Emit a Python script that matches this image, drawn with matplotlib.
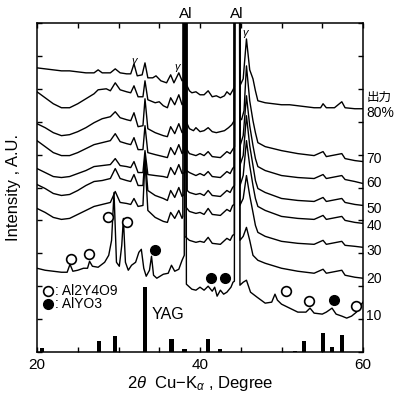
import numpy as np
import matplotlib
matplotlib.use("Agg")
import matplotlib.pyplot as plt
import matplotlib.transforms as mtrans

plt.rcParams['font.family'] = ['Liberation Sans', 'Noto Sans CJK JP', 'DejaVu Sans']
plt.rcParams['mathtext.fontset'] = 'custom'
plt.rcParams['mathtext.rm'] = 'Liberation Sans'
plt.rcParams['mathtext.it'] = 'Liberation Sans:italic'

# ---- XRD patterns (2theta [deg], intensity [A.U.])
c80 = [(20,285),(21,284),(22,283),(23,282),(24,282),(25,281),(26,280),(27,280),(27.5,283),(28,280),(29,280),
       (29.6,284),(30.2,280),(31,279),(31.5,279),(31.9,289),(32.3,277),(32.9,278),(33.25,290),(33.6,275),(34.2,275),
       (34.6,277),(35.2,272),(35.9,270),(36.4,278),(36.8,270),(37.4,280),(37.8,272),(38.09,274),(38.18,900),(38.26,900),
       (38.35,268),(38.7,262),(39,260),(39.5,261),(40,258),(40.5,258),(41,262),(41.5,256),(42,257),(42.5,255),(43,257),
       (43.3,261),(43.7,258),(44.05,263),(44.22,266),(44.3,900),(44.82,900),(44.9,267),(45.3,274),(45.7,314),(46.1,283),
       (46.5,274),(46.8,262),(47.1,252),(48,250),(49,249),(50,248),(51,248),(52,247),(53,246),(54,245),(54.8,245),
       (55.1,249),(55.5,245),(56.5,245),(57.4,251),(57.8,245),(59,244),(60,244)]
c70 = [(20,261),(21,255),(22,249),(23,245),(24,245),(25,249),(26,254),(27,259),(27.5,263),(28.5,264),(29,262),
       (29.6,270),(30.2,263),(31,261),(31.5,260),(31.9,267),(32.4,256),(33.0,256),(33.25,272),(33.6,253),(34.5,250),
       (35.0,251),(35.5,247),(36.0,245),(36.4,255),(36.9,248),(37.4,258),(37.8,248),(37.99,250),(38.08,900),(38.16,900),
       (38.25,232),(38.7,224),(39.2,222),(39.5,225),(40,221),(40.5,222),(41,225),(41.5,221),(42,220),(42.5,221),(43,222),
       (43.5,225),(43.9,228),(44.19,232),(44.27,900),(44.79,900),(44.87,235),(45.1,233),(45.4,242),(45.7,287),(46.1,252),
       (46.5,232),(46.8,220),(47.1,210),(48,206),(49,204),(50,202),(52,199),(54,197),(55.1,201),(55.5,196),(57.4,199),
       (57.8,194),(59,192),(60,191)]
c60 = [(20,229),(21,225),(22,220),(23,217),(24,218),(25,221),(26,225),(27,230),(28,234),(29,236),(29.6,241),(30.2,235),
       (31,233),(31.5,232),(31.9,240),(32.4,226),(33.0,227),(33.25,254),(33.6,224),(34.5,220),(35.5,217),(36.0,216),
       (36.4,226),(36.9,219),(37.4,229),(37.8,220),(38.14,222),(38.23,900),(38.31,900),(38.4,203),(38.7,199),(39.5,197),
       (40,199),(40.5,197),(41,201),(41.5,196),(42.5,195),(43.3,201),(43.7,199),(44.0,203),(44.24,206),(44.32,900),
       (44.84,900),(44.92,207),(45.3,217),(45.7,257),(46.1,227),(46.5,207),(46.8,194),(47.1,186),(48,182),(50,177),
       (52,175),(54,174),(55.1,178),(55.5,174),(57.4,177),(57.8,173),(59,171),(60,169)]
c50 = [(20,212),(21,206),(22,200),(23,197),(24,197),(25,200),(26,204),(27,208),(28,210),(29,212),(29.6,219),(30.2,211),
       (31,209),(31.5,208),(31.9,215),(32.4,203),(33.0,203),(33.25,227),(33.6,200),(34.5,198),(35.5,196),(36.0,195),
       (36.4,205),(36.9,198),(37.4,208),(37.8,199),(37.94,200),(38.03,900),(38.11,900),(38.2,183),(38.7,180),(39.5,177),
       (40,179),(40.5,177),(41,181),(41.5,176),(42.5,175),(43.3,181),(43.7,179),(44.0,184),(44.2,186),(44.28,900),
       (44.8,900),(44.88,187),(45.3,197),(45.7,237),(46.1,207),(46.5,187),(46.8,172),(47.1,164),(48,160),(50,154),
       (52,152),(54,151),(55.1,155),(55.5,151),(57.4,154),(57.8,150),(59,148),(60,147)]
c40 = [(20,184),(21,180),(22,176),(23,175),(24,176),(25,179),(26,182),(27,186),(28,187),(29,188),(29.6,194),(30.2,187),
       (31,186),(31.5,185),(31.9,191),(32.4,180),(33.0,180),(33.25,202),(33.6,178),(34.5,177),(35.5,176),(36.0,175),
       (36.4,185),(36.9,178),(37.4,188),(37.8,179),(38.17,180),(38.26,900),(38.34,900),(38.43,162),(38.7,160),(39.5,158),
       (40,159),(40.5,157),(41,162),(41.5,157),(42.5,156),(43.3,162),(43.7,160),(44.0,165),(44.23,167),(44.31,900),
       (44.83,900),(44.91,167),(45.3,177),(45.7,212),(46.1,187),(46.5,167),(46.8,154),(47.1,146),(48,142),(50,136),
       (52,134),(54,133),(55.1,137),(55.5,133),(57.4,136),(57.8,132),(59,130),(60,129)]
c30 = [(20,168),(21,164),(22,159),(23,157),(24,158),(25,162),(26,167),(27,171),(28,172),(29,174),(29.6,184),(30.2,174),
       (31,172),(31.5,171),(31.9,178),(32.4,167),(33.0,167),(33.25,197),(33.6,162),(34.5,157),(35.5,154),(36.0,152),
       (36.4,162),(36.9,155),(37.4,165),(37.8,156),(38.04,158),(38.13,900),(38.21,900),(38.3,145),(38.7,141),(39.5,139),
       (40,140),(40.5,138),(41,144),(41.5,138),(42.5,137),(43.3,143),(43.7,141),(44.0,147),(44.21,148),(44.29,900),
       (44.81,900),(44.89,147),(45.3,154),(45.7,177),(46.1,157),(46.5,140),(46.8,127),(47.1,120),(48,116),(50,111),
       (52,109),(54,108),(55.1,112),(55.5,108),(57.4,111),(57.8,107),(59,106),(60,105)]
c20 = [(20,144),(21,140),(22,135),(23,133),(24,134),(25,138),(26,142),(27,146),(28,148),(29,150),(29.6,161),(30.2,150),
       (31,149),(31.5,148),(31.9,154),(32.4,146),(33.0,147),(33.25,192),(33.6,142),(34.5,135),(35.5,131),(36.0,130),
       (36.4,140),(36.9,134),(37.4,142),(37.8,134),(37.89,136),(37.98,900),(38.06,900),(38.15,116),(38.7,112),(39.5,110),
       (40,111),(40.5,110),(41,115),(41.5,109),(42.5,108),(43.3,114),(43.7,112),(44.0,117),(44.22,118),(44.3,900),
       (44.82,900),(44.9,112),(45.3,116),(45.7,125),(46.1,112),(46.5,97),(47.1,92),(48,89),(50,84),(52,81),(54,79),
       (55.1,83),(55.5,79),(57.4,82),(57.8,77),(59,75),(60,74)]
c10 = [(20,84),(21,82),(22,81),(23,80),(23.7,80),(24.05,88),(24.4,81),(25,82),(25.7,84),(26.2,84),(26.45,91),(26.8,86),
       (27.5,85),(28.3,90),(28.8,97),(29.15,112),(29.45,160),(29.75,90),(30.1,86),(30.4,107),(30.6,134),(30.85,90),
       (31.2,82),(31.6,87),(32.1,90),(32.5,100),(32.8,103),(33.1,84),(33.4,76),(33.8,82),(34.05,96),(34.3,77),(34.7,74),
       (35.5,78),(36.1,79),(36.5,87),(36.9,81),(37.4,83),(37.8,92),(38.07,97),(38.16,900),(38.24,900),(38.33,68),(39,63),
       (39.5,62),(40,65),(40.5,62),(41,66),(41.5,61),(41.8,65),(42.1,56),(42.5,62),(42.9,58),(43.3,60),(43.8,65),
       (44.05,70),(44.22,71),(44.3,900),(44.82,900),(44.9,67),(45.3,70),(45.7,72),(46.2,60),(47,55),(48,49),(48.8,50),
       (49.2,58),(49.5,52),(50,48),(51,44),(52,40),(53,40),(53.5,44),(54,39),(55,38),(55.5,40),(56.2,44),(56.7,38),
       (57.4,36),(58,34),(58.6,36),(59.2,40),(59.6,46),(60,50)]
curves = [c80, c70, c60, c50, c40, c30, c20, c10]

# right-hand labels (power) and their height
power_lab = ["80%", "70", "60", "50", "40", "30", "20", "10"]
power_y   = [240, 194, 170, 143, 126, 101, 73, 36]

# YAG reference pattern
yag_pos = [20.65, 27.6, 29.6, 33.25, 36.5, 38.1, 41.0, 42.5, 51.7, 52.8, 55.1, 56.2, 57.4]
yag_int = [4, 11, 16, 65, 13, 3, 13, 3, 1, 11, 19, 5, 17]

# phase markers
a2y_x = [24.13, 26.4, 28.7, 31.0, 50.6, 53.4, 59.2]      # Al2Y4O9
a2y_y = [93, 98, 135, 130, 61, 51, 46]
ayo_x = [34.5, 41.35, 43.07, 56.4]                      # AlYO3
ayo_y = [102, 74, 74, 52]

gam_x = [32.0, 37.25, 45.6]
gam_y = [291, 285, 319]

fig = plt.figure(figsize=(3.94, 3.94), dpi=100)
ax = fig.add_axes([37/394, 42/394, 326/394, 329/394])

for c in curves:
    d = np.array(c)
    ax.plot(d[:, 0], d[:, 1], color='black', lw=1.0)

ax.bar(yag_pos, yag_int, width=0.5, color='black', align='center')

ax.plot(a2y_x, a2y_y, 'o', ms=7, mfc='white', mec='black', mew=1.2, clip_on=False)
ax.plot(ayo_x, ayo_y, 'o', ms=7, mfc='black', mec='black', clip_on=False)

# legend drawn by hand as in the original
ax.plot([21.3], [61], 'o', ms=7, mfc='white', mec='black', mew=1.2)
ax.plot([21.3], [48], 'o', ms=7, mfc='black', mec='black')
ax.text(22.2, 61, ': Al2Y4O9', fontsize=10, va='center')
ax.text(22.2, 48, ': AlYO3', fontsize=10, va='center')
ax.text(34.1, 38, 'YAG', fontsize=11.5, va='center')

for gx, gy in zip(gam_x, gam_y):
    ax.text(gx, gy, r'$\gamma$', fontsize=8, ha='center', va='center')

tr = mtrans.blended_transform_factory(ax.transData, ax.transAxes)
for alx in [38.2, 44.55]:
    ax.text(alx, 1.005, 'Al', transform=tr, fontsize=11, ha='center', va='bottom')

tr2 = mtrans.blended_transform_factory(ax.transAxes, ax.transData)
ax.text(1.01, 255, '出力', transform=tr2, fontsize=9, va='center',
        family=['Noto Sans CJK JP', 'DejaVu Sans'])
for lab, ly in zip(power_lab, power_y):
    ax.text(1.01, ly, lab, transform=tr2, fontsize=10, va='center')

ax.set_xlim(20, 60)
ax.set_ylim(0, 330)
ax.set_xticks(np.arange(20, 61, 5))
ax.set_xticklabels(['20', '', '', '', '40', '', '', '', '60'], fontsize=11)
ax.set_yticks(np.arange(0, 331, 33))
ax.set_yticklabels([])
ax.tick_params(direction='in', top=True, right=True, length=3.5, width=1)
ax.tick_params(axis='x', pad=4)
for s in ax.spines.values():
    s.set_linewidth(1.1)

ax.set_xlabel(r'2$\theta$  Cu$-$K$_\alpha$ , Degree', fontsize=12, labelpad=2)
ax.set_ylabel('Intensity , A.U.', fontsize=12, labelpad=8)

fig.savefig('out.png', dpi=100)
